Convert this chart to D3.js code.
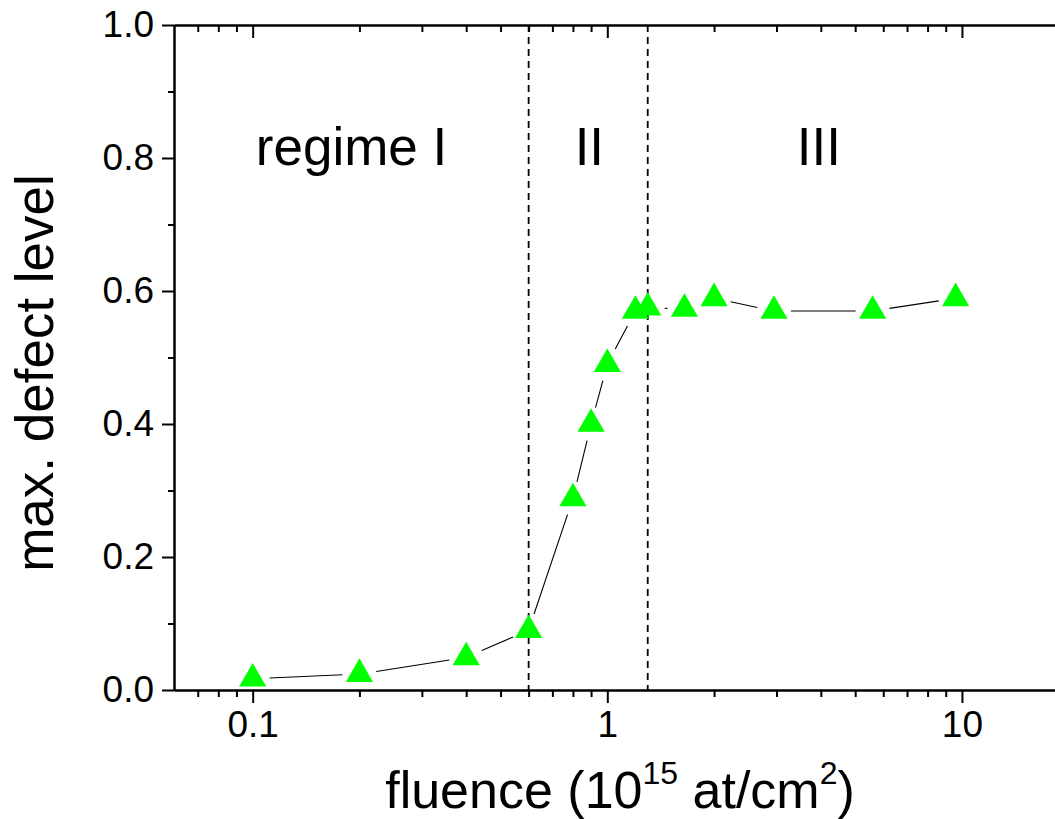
<!DOCTYPE html>
<head>
<meta charset="utf-8">
<style>
body {
  margin: 0;
  background: #fff;
}
svg {
  display: block;
}
text {
  font-family: "Liberation Sans", Arial, sans-serif;
  fill: #000;
}
.axis line,
.axis path {
  stroke: #000;
  stroke-width: 2px;
}
.regime line {
  stroke: #000;
  stroke-width: 1.8px;
  stroke-dasharray: 7, 5;
}
.links line {
  stroke: #000;
  stroke-width: 1.1px;
}
</style>
</head>
<body>
<svg width="1055" height="819"></svg>
<script src="https://d3js.org/d3.v7.min.js"></script>
<script>
// fluence in 10^15 at/cm2
var fluence = [0.1, 0.2, 0.4, 0.6, 0.8, 0.9, 1.0, 1.2, 1.3, 1.65, 2.0, 2.95, 5.6, 9.6];
var defect_level = [0.017, 0.024, 0.049, 0.090, 0.288, 0.400, 0.490, 0.570, 0.575, 0.573, 0.589, 0.570, 0.570, 0.589];

// boundaries between the regimes and their names
var regime_bounds = [0.6, 1.3];
var regime_names = ["regime I", "II", "III"];

var x_major = [0.1, 1, 10];
var x_labels = ["0.1", "1", "10"];
var y_major = [0, 0.2, 0.4, 0.6, 0.8, 1.0];
var y_minor = [0.1, 0.3, 0.5, 0.7, 0.9];

var svg = d3.select("svg");

var plot_left = 174, plot_top = 25, plot_bottom = 690;

var x = d3.scaleLog()
    .domain([0.06, 20])
    .range([plot_left, 1068.7]);

var y = d3.scaleLinear()
    .domain([0, 1])
    .range([plot_bottom, plot_top]);

// minor ticks on the log axis: 2..9 of every decade inside the domain
var x_minor = [];
[0.01, 0.1, 1, 10].forEach(function(dec){
  for (var k = 2; k <= 9; k++) {
    var v = k * dec;
    if (v > x.domain()[0] && v < x.domain()[1]) x_minor.push(v);
  }
});

//dashed lines between the regimes
svg.append("g")
    .attr("class", "regime")
    .selectAll("line")
    .data(regime_bounds)
    .enter().append("line")
    .attr("x1", function(d){ return x(d); })
    .attr("x2", function(d){ return x(d); })
    .attr("y1", y(1))
    .attr("y2", y(0));

//regime names, centred in each region
var regime_at = [0.19, 0.89, 3.95];
svg.append("g")
    .selectAll("text")
    .data(regime_names)
    .enter().append("text")
    .attr("x", function(d, i){ return x(regime_at[i]); })
    .attr("y", 165)
    .attr("text-anchor", "middle")
    .style("font-size", "53px")
    .text(function(d){ return d; });

//axes
function add_axis(axis, tx, ty){
  var g = svg.append("g")
      .attr("class", "axis")
      .attr("transform", "translate(" + tx + "," + ty + ")")
      .call(axis);
  g.selectAll("text")
      .style("font-size", "37px")
      .style("font-family", "'Liberation Sans', Arial, sans-serif");
  return g;
}

add_axis(d3.axisBottom(x).tickValues(x_minor).tickSize(7).tickSizeOuter(0).tickFormat(""), 0, plot_bottom);
add_axis(d3.axisBottom(x).tickValues(x_major).tickSize(13).tickPadding(8).tickSizeOuter(0)
    .tickFormat(function(d, i){ return x_labels[i]; }), 0, plot_bottom);
add_axis(d3.axisTop(x).tickValues(x_minor).tickSize(-7).tickSizeOuter(0).tickFormat(""), 0, plot_top);
add_axis(d3.axisTop(x).tickValues(x_major).tickSize(-13).tickSizeOuter(0).tickFormat(""), 0, plot_top);
add_axis(d3.axisLeft(y).tickValues(y_minor).tickSize(6).tickSizeOuter(0).tickFormat(""), plot_left, 0);
add_axis(d3.axisLeft(y).tickValues(y_major).tickSize(12).tickPadding(8).tickSizeOuter(0)
    .tickFormat(d3.format(".1f")), plot_left, 0);

//connecting line, broken around each marker
var gap = 17;
var pts = fluence.map(function(f, i){ return [x(f), y(defect_level[i])]; });
var segs = [];
for (var i = 1; i < pts.length; i++) {
  var dx = pts[i][0] - pts[i-1][0], dy = pts[i][1] - pts[i-1][1];
  var len = Math.sqrt(dx * dx + dy * dy);
  if (len <= 2 * gap) continue;
  var ux = dx / len, uy = dy / len;
  segs.push([pts[i-1][0] + ux * gap, pts[i-1][1] + uy * gap,
             pts[i][0] - ux * gap, pts[i][1] - uy * gap]);
}
svg.append("g")
    .attr("class", "links")
    .selectAll("line")
    .data(segs)
    .enter().append("line")
    .attr("x1", function(d){ return d[0]; })
    .attr("y1", function(d){ return d[1]; })
    .attr("x2", function(d){ return d[2]; })
    .attr("y2", function(d){ return d[3]; });

//green triangles
svg.append("g")
    .selectAll("path")
    .data(fluence)
    .enter().append("path")
    .attr("d", d3.symbol().type(d3.symbolTriangle).size(320))
    .attr("transform", function(d, i){ return "translate(" + x(d) + "," + y(defect_level[i]) + ")"; })
    .attr("fill", "#00ff00");

//axis titles
svg.append("text")
    .attr("transform", "translate(53,373) rotate(-90)")
    .attr("text-anchor", "middle")
    .style("font-size", "53px")
    .text("max. defect level");

var xt = svg.append("text")
    .attr("x", 620)
    .attr("y", 808)
    .attr("text-anchor", "middle")
    .style("font-size", "52px");
xt.append("tspan").text("fluence (10");
xt.append("tspan").attr("dy", -24).style("font-size", "32px").text("15");
xt.append("tspan").attr("dy", 24).text(" at/cm");
xt.append("tspan").attr("dy", -24).style("font-size", "32px").text("2");
xt.append("tspan").attr("dy", 24).text(")");
</script>
</body>
</html>
